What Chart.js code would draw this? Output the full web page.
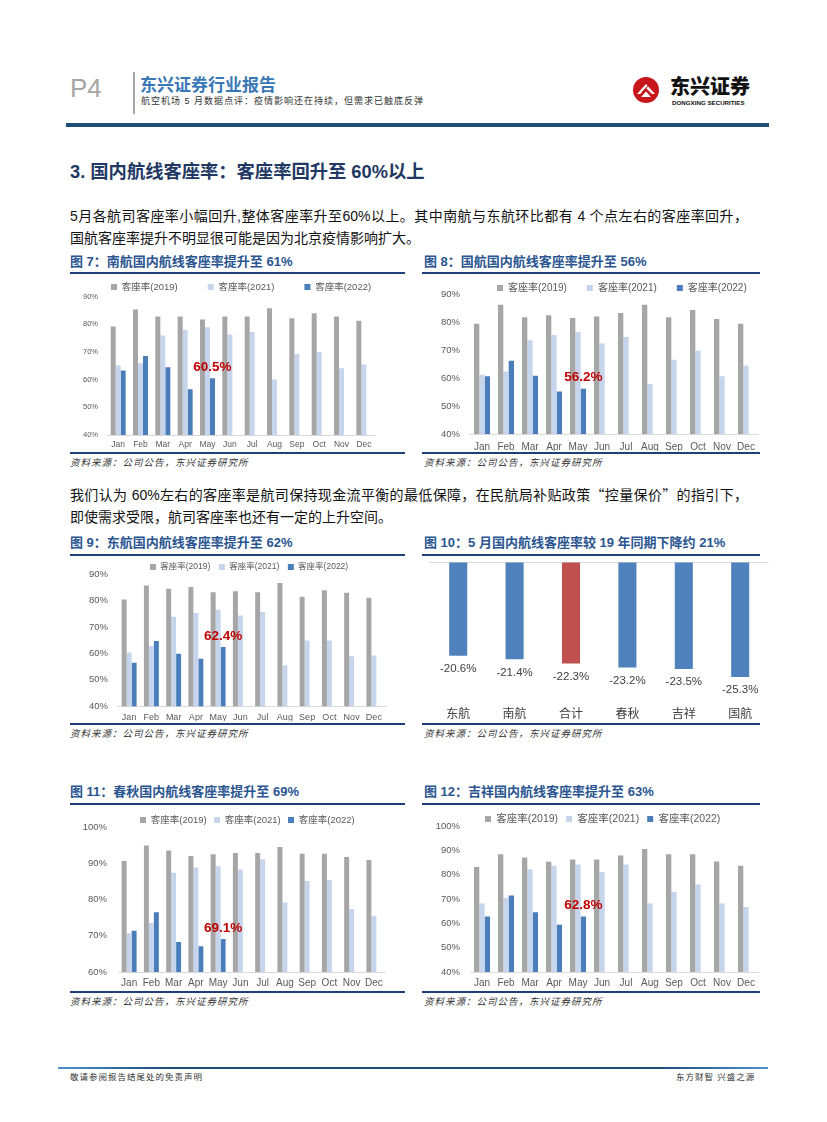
<!DOCTYPE html>
<html lang="zh-CN">
<head>
<meta charset="utf-8">
<title>东兴证券行业报告 P4</title>
<script src="https://cdn.jsdelivr.net/npm/chart.js@4.4.1/dist/chart.umd.min.js"></script>
<style>
  html, body { margin: 0; padding: 0; background: #fff; }
  body { width: 827px; height: 1122px; position: relative; overflow: hidden;
         font-family: "Liberation Sans", "Noto Sans CJK SC", sans-serif; color: #111; }
  .abs { position: absolute; white-space: nowrap; }
  canvas { position: absolute; }
  .rule { position: absolute; background: #203f7a; }
  .ctitle { position: absolute; white-space: nowrap; font-size: 13px; font-weight: bold;
            color: #2a5590; line-height: 16px; }
  .src { position: absolute; white-space: nowrap; font-size: 9.5px; font-style: italic;
         letter-spacing: 1px; color: #333; line-height: 14px; }
  .para { position: absolute; left: 70px; width: 678px; font-size: 14px; }
  .cjk { font-family: "Noto Sans CJK SC", sans-serif; }
</style>
</head>
<body>

<!-- header -->
<div class="abs" style="left:70px;top:75px;font-size:26px;line-height:26px;color:#a6a6a6;">P4</div>
<div class="abs" style="left:133px;top:72px;width:2px;height:42px;background:#a6a6a6;"></div>
<div class="abs" style="left:140px;top:76px;font-size:17px;line-height:20px;font-weight:bold;color:#3a78b5;">东兴证券行业报告</div>
<div class="abs" style="left:141px;top:95px;font-size:9px;line-height:12px;letter-spacing:1px;color:#333;">航空机场 5 月数据点评：疫情影响还在持续，但需求已触底反弹</div>
<svg class="abs" style="left:633px;top:77px" width="26" height="26" viewBox="0 0 26 26">
  <circle cx="13" cy="13" r="13" fill="#c8161d"/>
  <path d="M4 17 L13 7 L22 17 L19 17 L13 11 L7 17 Z" fill="#fff"/>
  <path d="M8 20 L13 14.5 L18 20 Z" fill="#fff"/>
  <path d="M9 15 L15 9" stroke="#c8161d" stroke-width="1"/>
</svg>
<div class="abs" style="left:670px;top:77px;font-size:20px;line-height:20px;font-weight:900;color:#111;">东兴证券</div>
<div class="abs" style="left:672px;top:99px;font-size:6.2px;line-height:8px;font-weight:bold;color:#111;">DONGXING SECURITIES</div>
<div class="rule" style="left:66px;top:123px;width:703px;height:4px;background:#1f4e79;"></div>

<!-- section -->
<div class="abs" style="left:70px;top:160px;font-size:18.3px;line-height:24px;font-weight:bold;color:#1f3864;">3. 国内航线客座率：客座率回升至 60%以上</div>

<div class="para" style="top:205px;line-height:22px;text-align:justify;text-align-last:justify;">5月各航司客座率小幅回升,整体客座率升至60%以上。其中南航与东航环比都有 4 个点左右的客座率回升，</div>
<div class="para" style="top:227px;line-height:22px;">国航客座率提升不明显很可能是因为北京疫情影响扩大。</div>

<!-- figure 7 / 8 -->
<div class="ctitle" style="left:70px;top:254px;">图 7：南航国内航线客座率提升至 61%</div>
<div class="ctitle" style="left:424px;top:254px;">图 8：国航国内航线客座率提升至 56%</div>
<div class="rule" style="left:70px;top:272px;width:335px;height:2px;"></div>
<div class="rule" style="left:422px;top:272px;width:338px;height:2px;"></div>
<canvas id="c7" width="340" height="175" style="left:70px;top:276px;"></canvas>
<canvas id="c8" width="340" height="175" style="left:425px;top:276px;"></canvas>
<div class="rule" style="left:70px;top:452px;width:335px;height:1.5px;"></div>
<div class="rule" style="left:422px;top:452px;width:338px;height:1.5px;"></div>
<div class="src" style="left:70px;top:456px;">资料来源：公司公告，东兴证券研究所</div>
<div class="src" style="left:424px;top:456px;">资料来源：公司公告，东兴证券研究所</div>

<div class="para" style="top:483px;line-height:23px;text-align:justify;text-align-last:justify;">我们认为 60%左右的客座率是航司保持现金流平衡的最低保障，在民航局补贴政策<span class="cjk">“</span>控量保价<span class="cjk">”</span>的指引下，</div>
<div class="para" style="top:506px;line-height:23px;">即使需求受限，航司客座率也还有一定的上升空间。</div>

<!-- figure 9 / 10 -->
<div class="ctitle" style="left:70px;top:535px;">图 9：东航国内航线客座率提升至 62%</div>
<div class="ctitle" style="left:424px;top:535px;">图 10：5 月国内航线客座率较 19 年同期下降约 21%</div>
<div class="rule" style="left:70px;top:554px;width:335px;height:2px;"></div>
<div class="rule" style="left:422px;top:554px;width:338px;height:2px;"></div>
<canvas id="c9" width="340" height="165" style="left:70px;top:557px;"></canvas>
<canvas id="c10" width="345" height="165" style="left:425px;top:557px;"></canvas>
<div class="rule" style="left:70px;top:723px;width:335px;height:1.5px;"></div>
<div class="rule" style="left:422px;top:723px;width:338px;height:1.5px;"></div>
<div class="src" style="left:70px;top:727px;">资料来源：公司公告，东兴证券研究所</div>
<div class="src" style="left:424px;top:727px;">资料来源：公司公告，东兴证券研究所</div>

<!-- figure 11 / 12 -->
<div class="ctitle" style="left:70px;top:784px;">图 11：春秋国内航线客座率提升至 69%</div>
<div class="ctitle" style="left:424px;top:784px;">图 12：吉祥国内航线客座率提升至 63%</div>
<div class="rule" style="left:70px;top:803px;width:335px;height:2px;"></div>
<div class="rule" style="left:422px;top:803px;width:338px;height:2px;"></div>
<canvas id="c11" width="340" height="183" style="left:70px;top:807px;"></canvas>
<canvas id="c12" width="340" height="183" style="left:425px;top:807px;"></canvas>
<div class="rule" style="left:70px;top:991px;width:335px;height:1.5px;"></div>
<div class="rule" style="left:422px;top:991px;width:338px;height:1.5px;"></div>
<div class="src" style="left:70px;top:995px;">资料来源：公司公告，东兴证券研究所</div>
<div class="src" style="left:424px;top:995px;">资料来源：公司公告，东兴证券研究所</div>

<!-- footer -->
<div class="abs" style="left:58px;top:1067px;width:710px;height:2px;background:linear-gradient(90deg,#4f8fcf,#1f4e79 15%,#1f4e79 85%,#4f8fcf);"></div>
<div class="abs" style="left:70px;top:1071px;font-size:8.5px;line-height:12px;letter-spacing:1px;color:#333;">敬请参阅报告结尾处的免责声明</div>
<div class="abs" style="left:676px;top:1071px;font-size:8.5px;line-height:12px;letter-spacing:1px;color:#333;">东方财智 兴盛之源</div>

<script>
// months and series labels
const months = ['Jan', 'Feb', 'Mar', 'Apr', 'May', 'Jun', 'Jul', 'Aug', 'Sep', 'Oct', 'Nov', 'Dec'];
const seriesNames = ['客座率(2019)', '客座率(2021)', '客座率(2022)'];

// 南航 (fig 7)
const nanhang2019 = [79.2, 85.4, 82.8, 82.8, 81.8, 82.8, 82.8, 85.8, 82.2, 84.0, 82.8, 81.3];
const nanhang2021 = [65.2, 65.9, 76.0, 78.0, 79.0, 76.3, 77.2, 60.1, 69.3, 70.0, 64.1, 65.5];
const nanhang2022 = [63.3, 68.6, 64.5, 56.5, 60.5];

// 国航 (fig 8)
const guohang2019 = [79.4, 86.2, 81.7, 82.4, 81.4, 82.0, 83.2, 86.2, 81.7, 84.3, 81.1, 79.4];
const guohang2021 = [61.2, 62.3, 73.5, 75.4, 76.4, 72.3, 74.6, 57.9, 66.5, 69.8, 60.6, 64.4];
const guohang2022 = [60.6, 66.2, 60.8, 55.2, 56.2];

// 东航 (fig 9)
const donghang2019 = [80.4, 85.7, 84.4, 85.1, 83.1, 83.5, 83.1, 86.6, 81.4, 83.9, 82.9, 81.0];
const donghang2021 = [60.3, 62.8, 73.8, 75.3, 76.5, 74.3, 75.6, 55.5, 64.9, 64.9, 58.9, 59.2];
const donghang2022 = [56.5, 64.7, 59.9, 58.0, 62.4];

// 5月 vs 2019 (fig 10)
const airlines = ['东航', '南航', '合计', '春秋', '吉祥', '国航'];
const mayVs2019 = [-20.6, -21.4, -22.3, -23.2, -23.5, -25.3];

// 春秋 (fig 11)
const chunqiu2019 = [90.6, 94.9, 93.5, 92.0, 92.5, 92.8, 92.8, 94.5, 92.6, 92.6, 91.7, 90.9];
const chunqiu2021 = [70.7, 73.5, 87.4, 88.8, 89.2, 88.3, 91.1, 79.2, 85.1, 85.4, 77.4, 75.5];
const chunqiu2022 = [71.4, 76.5, 68.3, 67.1, 69.1];

// 吉祥 (fig 12)
const jixiang2019 = [83.2, 88.4, 87.1, 85.3, 86.2, 86.2, 87.9, 90.5, 88.4, 88.4, 85.4, 83.7];
const jixiang2021 = [68.2, 70.4, 82.2, 83.7, 84.2, 81.1, 84.2, 68.2, 73.0, 76.0, 68.2, 66.7];
const jixiang2022 = [62.8, 71.4, 64.6, 59.4, 62.8];

const GREY = '#a6a6a6', LIGHT = '#c6d5ec', BLUE = '#4a7ebb';
const TXT = '#595959';
const FONT = '"Liberation Sans", Arial, "Noto Sans CJK SC", sans-serif';

Chart.defaults.font.family = FONT;
Chart.defaults.color = TXT;

// pin the legend height and where its first item sits (x, y given in page px)
const legendPlace = {
  id: 'legendPlace',
  beforeLayout(chart, args, opts) {
    const lg = chart.legend;
    if (!lg || lg._pinned) return;
    const fit = lg.fit;
    lg.fit = function () {
      this.maxWidth = 2000; // keep all three items on one row
      fit.call(this);
      this.height = opts.height;
    };
    lg._pinned = true;
  },
  afterLayout(chart, args, opts) {
    const lg = chart.legend;
    const lab = chart.options.plugins.legend.labels;
    const x = opts.x - chart.canvas.offsetLeft;
    const y = opts.y - chart.canvas.offsetTop;
    lg.left = x - lab.padding;
    lg.right = lg.left + 2000;
    lg.top = y - lab.padding - lab.font.size / 2;
    lg.bottom = chart.chartArea.top;
  }
};

// red value over the latest 2022 bar
const lastLabel = {
  id: 'lastLabel',
  afterDatasetsDraw(chart, args, opts) {
    const data = chart.data.datasets[2].data;
    const i = data.length - 1;
    const bar = chart.getDatasetMeta(2).data[i];
    const ctx = chart.ctx;
    ctx.save();
    ctx.font = 'bold 13.5px ' + FONT;
    ctx.fillStyle = '#c00000';
    ctx.textAlign = 'center';
    ctx.textBaseline = 'middle';
    ctx.fillText(data[i].toFixed(1) + '%', bar.x, bar.y - opts.gap);
    ctx.restore();
  }
};

// value labels under the negative bars
const endLabels = {
  id: 'endLabels',
  afterDatasetsDraw(chart, args, opts) {
    const data = chart.data.datasets[0].data;
    const ctx = chart.ctx;
    ctx.save();
    ctx.font = '11.5px ' + FONT;
    ctx.fillStyle = '#404040';
    ctx.textAlign = 'center';
    ctx.textBaseline = 'middle';
    chart.getDatasetMeta(0).data.forEach((bar, i) => {
      ctx.fillText(data[i].toFixed(1) + '%', bar.x, bar.y + opts.gap);
    });
    ctx.restore();
  }
};

function seatChart(id, s2019, s2021, s2022, g) {
  return new Chart(document.getElementById(id), {
    type: 'bar',
    data: {
      labels: months,
      datasets: [
        { label: seriesNames[0], data: s2019, backgroundColor: GREY },
        { label: seriesNames[1], data: s2021, backgroundColor: LIGHT },
        { label: seriesNames[2], data: s2022, backgroundColor: BLUE }
      ]
    },
    options: {
      responsive: false,
      animation: false,
      layout: { padding: { top: 0, right: g.padR, bottom: 0, left: 0 } },
      datasets: { bar: { categoryPercentage: 0.67, barPercentage: 1 } },
      scales: {
        x: {
          grid: { display: false, drawTicks: false },
          border: { display: true, color: '#d9d9d9' },
          ticks: { padding: g.xPad, color: TXT, font: { size: g.xFs },
                   autoSkip: false, maxRotation: 0, minRotation: 0 },
          afterFit: s => { s.height = g.xH; }
        },
        y: {
          min: g.min, max: g.max,
          grid: { display: false, drawTicks: false },
          border: { display: false },
          ticks: { stepSize: 10, padding: g.yPad, color: TXT, font: { size: g.yFs },
                   callback: v => v + '%' },
          afterFit: s => { s.width = g.yW; }
        }
      },
      plugins: {
        legend: {
          align: 'start',
          labels: { boxWidth: 6, boxHeight: 6, padding: g.lgPad, color: TXT, font: { size: g.lgFs } }
        },
        tooltip: { enabled: false },
        legendPlace: { height: g.lgH, x: g.lgX, y: g.lgY },
        lastLabel: { gap: 11 }
      }
    },
    plugins: [legendPlace, lastLabel]
  });
}

seatChart('c7', nanhang2019, nanhang2021, nanhang2022, {
  min: 40, max: 90, padR: 35, yW: 37, yPad: 9, yFs: 7.5, xH: 16, xPad: 5, xFs: 8.5,
  lgH: 20.7, lgX: 111, lgY: 287, lgPad: 30, lgFs: 9.5
});
seatChart('c8', guohang2019, guohang2021, guohang2022, {
  min: 40, max: 90, padR: 7, yW: 45, yPad: 10, yFs: 9.5, xH: 17, xPad: 7, xFs: 10,
  lgH: 18, lgX: 497, lgY: 288, lgPad: 20, lgFs: 10
});
seatChart('c9', donghang2019, donghang2021, donghang2022, {
  min: 40, max: 90, padR: 25, yW: 48, yPad: 10, yFs: 9.5, xH: 15, xPad: 6, xFs: 9,
  lgH: 17, lgX: 150, lgY: 567, lgPad: 8.6, lgFs: 8.5
});
seatChart('c11', chunqiu2019, chunqiu2021, chunqiu2022, {
  min: 60, max: 100, padR: 25, yW: 48, yPad: 11, yFs: 9.5, xH: 18, xPad: 5, xFs: 10,
  lgH: 20, lgX: 140, lgY: 820, lgPad: 7.3, lgFs: 9.5
});
seatChart('c12', jixiang2019, jixiang2021, jixiang2022, {
  min: 40, max: 100, padR: 7, yW: 45, yPad: 10, yFs: 9.5, xH: 18, xPad: 5, xFs: 10,
  lgH: 19, lgX: 485, lgY: 819, lgPad: 8, lgFs: 10.5
});

// fig 10: May load factor change vs 2019
new Chart(document.getElementById('c10'), {
  type: 'bar',
  data: {
    labels: airlines,
    datasets: [{
      data: mayVs2019,
      backgroundColor: airlines.map(a => a === '合计' ? '#c0504d' : '#4f81bd')
    }]
  },
  options: {
    responsive: false,
    animation: false,
    layout: { padding: { top: 5, right: 1.6, bottom: 0, left: 0 } },
    datasets: { bar: { categoryPercentage: 0.32, barPercentage: 1 } },
    scales: {
      x: {
        grid: { display: false, drawTicks: false },
        border: { display: false },
        ticks: { padding: 8, color: '#404040', font: { size: 12, family: '"Noto Sans CJK SC", sans-serif' } },
        afterFit: s => { s.height = 23.5; }
      },
      y: {
        min: -30, max: 0,
        grid: { drawTicks: false, color: c => c.tick.value === 0 ? '#d9d9d9' : 'rgba(0,0,0,0)' },
        border: { display: false },
        ticks: { display: false, stepSize: 10 },
        afterFit: s => { s.width = 5; }
      }
    },
    plugins: {
      legend: { display: false },
      tooltip: { enabled: false },
      endLabels: { gap: 13 }
    }
  },
  plugins: [endLabels]
});
</script>
</body>
</html>
